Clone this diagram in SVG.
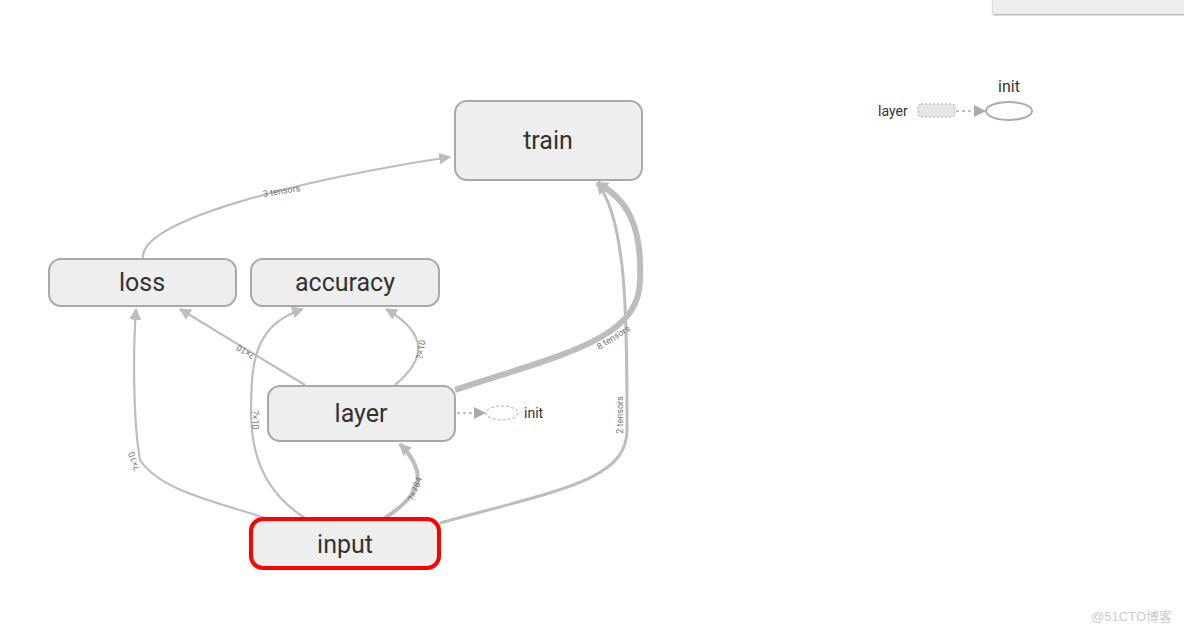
<svg xmlns="http://www.w3.org/2000/svg" width="1184" height="633" viewBox="0 0 1184 633">
<defs>
<style>
.n rect{fill:#eeeeee;stroke:#a9a9a9;stroke-width:2}
.n text{font-family:Roboto,"Liberation Sans",sans-serif;font-size:25px;fill:#333;text-anchor:middle}
.e{fill:none;stroke:#bdbdbd;stroke-width:2.2}
.lb{font-family:Roboto,"Liberation Sans",sans-serif;font-size:9px;fill:#777;text-anchor:middle}
.sm{font-family:Roboto,"Liberation Sans",sans-serif;font-size:14px;fill:#333}
</style>
<marker id="b" viewBox="0 0 10 10" refX="9" refY="5" markerWidth="12" markerHeight="12" orient="auto" markerUnits="userSpaceOnUse"><path d="M0,0L10,5L0,10z" fill="#bdbdbd"/></marker>
<filter id="sh"><feDropShadow dx="0" dy="1" stdDeviation="1" flood-color="#999"/></filter>
</defs>
<rect width="1184" height="633" fill="#fff"/>
<rect x="993" y="-2" width="195" height="16" fill="#eeeeee" filter="url(#sh)"/>
<g id="connectors">
<path class="e" d="M143,258 C140,220 300,180 450,157" marker-end="url(#b)"/>
<text class="lb" transform="translate(282,194) rotate(-9)">3 tensors</text>
<path class="e" d="M305,385 L180,309" marker-end="url(#b)"/>
<text class="lb" transform="translate(247,349) rotate(211)">?×10</text>
<path class="e" d="M395,385 C425,360 430,335 386,309" marker-end="url(#b)"/>
<text class="lb" transform="translate(424,350) rotate(-80)">?×10</text>
<path class="e" d="M305,518 C245,480 250,420 252,380 C255,340 270,320 303,309" marker-end="url(#b)"/>
<text class="lb" transform="translate(252,420) rotate(90)">?×10</text>
<path class="e" d="M265,518 C210,500 160,490 140,460 C133,420 133,350 136,309" marker-end="url(#b)"/>
<text class="lb" transform="translate(137,460) rotate(-110)">?×10</text>
<path class="e" style="stroke-width:4" d="M385,518 C420,495 430,475 400,444" marker-end="url(#b)"/>
<text class="lb" transform="translate(418,490) rotate(-70)">?×784</text>
<path class="e" style="stroke-width:3" d="M440,523 C560,490 627,480 627,430 C627,330 628,220 597,183" marker-end="url(#b)"/>
<text class="lb" transform="translate(623,415) rotate(-90)">2 tensors</text>
<path class="e" style="stroke-width:6" d="M455,390 C560,355 640,340 640,280 C642,230 630,200 597,183" marker-end="url(#b)"/>
<text class="lb" transform="translate(615,340) rotate(-32)">8 tensors</text>
<path d="M457,413 L484,413" fill="none" stroke="#aaa" stroke-width="1.5" stroke-dasharray="3,3"/>
<path d="M474,407 L486,413 L474,419z" fill="#aaa"/>
</g>
<g id="train" class="n"><rect x="455" y="101" width="187" height="79" rx="12"/><text x="548" y="149">train</text></g>
<g id="loss" class="n"><rect x="49" y="259" width="187" height="47" rx="12"/><text x="142" y="291">loss</text></g>
<g id="accuracy" class="n"><rect x="251" y="259" width="188" height="47" rx="12"/><text x="345" y="291">accuracy</text></g>
<g id="layer" class="n"><rect x="268" y="386" width="187" height="55" rx="12"/><text x="361" y="422">layer</text></g>
<g id="input" class="n"><rect x="251" y="519" width="188" height="49" rx="12" style="stroke:#ff0000;stroke-width:4"/><text x="345" y="553">input</text></g>
<g id="init-small"><ellipse cx="502" cy="413" rx="16" ry="7" fill="none" stroke="#aaa" stroke-dasharray="3,2"/><text class="sm" x="524" y="418">init</text></g>
<g id="legend">
<text class="sm" x="878" y="116">layer</text>
<rect x="918" y="104" width="37" height="13" rx="3" fill="#e6e6e6" stroke="#aaa" stroke-dasharray="2,2"/>
<path d="M956,111 L976,111" stroke="#aaa" stroke-width="1.5" stroke-dasharray="3,3"/>
<path d="M974,105 L986,111 L974,117z" fill="#aaa"/>
<ellipse cx="1009" cy="111" rx="23" ry="9" fill="#fff" stroke="#aaa" stroke-width="2"/>
<text class="sm" x="1009" y="92" text-anchor="middle" style="font-size:16px">init</text>
</g>
<text x="1172" y="621" text-anchor="end" style="font-family:'Liberation Sans','Noto Sans CJK SC',sans-serif;font-size:13px;fill:#ccc">@51CTO博客</text>
</svg>
